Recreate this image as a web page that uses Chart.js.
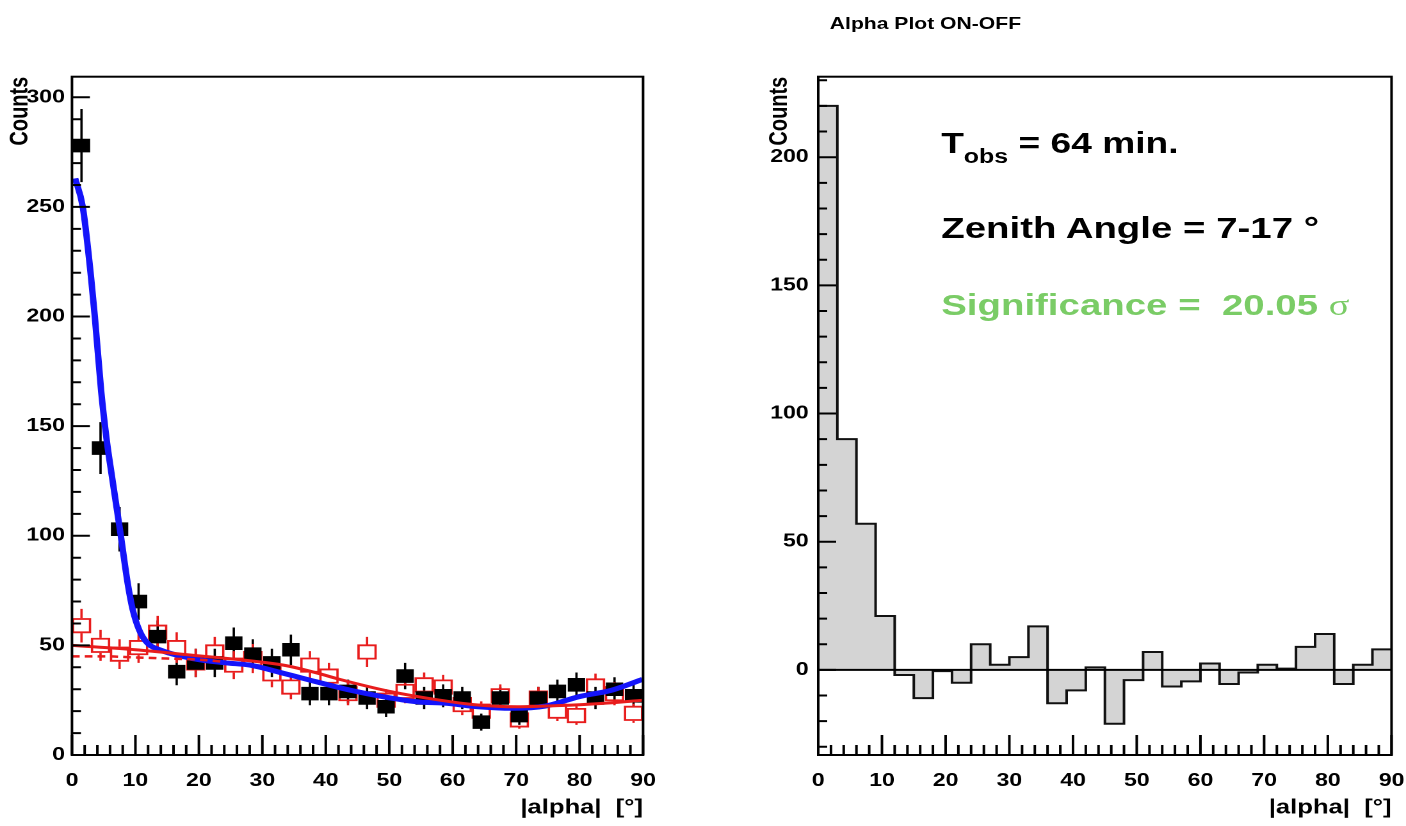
<!DOCTYPE html>
<html>
<head>
<meta charset="utf-8">
<title>Alpha Plot ON-OFF</title>
<script src="https://cdn.jsdelivr.net/npm/chart.js@4.4.1/dist/chart.umd.min.js"></script>
<style>
  html, body { margin: 0; padding: 0; background: #fff; overflow: hidden; }
  /* the original picture is stretched sideways, so the whole page is drawn narrow and scaled */
  #page { position: absolute; left: 0; top: 0; width: 1098px; height: 826px;
          transform: scaleX(1.2805); transform-origin: 0 0;
          font-family: "Liberation Sans", Arial, Helvetica, sans-serif; font-weight: bold; }
  #page canvas { position: absolute; top: 0; }
  .txt { position: absolute; white-space: nowrap; line-height: 1; }
</style>
</head>
<body>
<div id="page">
  <canvas id="onOffChart" width="515" height="826" style="left:0px"></canvas>
  <canvas id="excessChart" width="505" height="826" style="left:593px"></canvas>
  <div class="txt" style="left:648px; top:15px; font-size:16.5px;">Alpha Plot ON-OFF</div>
  <div class="txt" style="left:735px; top:129px; font-size:29px;">T<span style="font-size:19.5px; position:relative; top:10px;">obs</span> = 64 min.</div>
  <div class="txt" style="left:735px; top:213px; font-size:30px;">Zenith Angle = 7-17 °</div>
  <div class="txt" style="left:735px; top:290px; font-size:30px; color:#7acc66;">Significance =&nbsp; 20.05 <span style="font-family:'Liberation Serif', serif; font-weight:normal;">σ</span></div>
</div>
<script>
// |alpha| bin centres (3 degree bins)
const alphaBins = [1.5, 4.5, 7.5, 10.5, 13.5, 16.5, 19.5, 22.5, 25.5, 28.5,
                   31.5, 34.5, 37.5, 40.5, 43.5, 46.5, 49.5, 52.5, 55.5, 58.5,
                   61.5, 64.5, 67.5, 70.5, 73.5, 76.5, 79.5, 82.5, 85.5, 88.5];

// ON counts (black) and OFF counts (red), left panel
const onCounts = [278, 140, 103, 70, 54, 38, 42, 42, 51, 46,
                  42, 48, 28, 28, 29, 26, 22, 36, 26, 27,
                  26, 15, 26, 18, 26, 29, 32, 26, 30, 27];
const offCounts = [59, 50, 46, 49, 56, 49, 42, 47, 41, 44,
                   37, 31, 41, 36, 28, 47, 25, 29, 32, 31,
                   23, 20, 27, 16, 26, 20, 18, 31.5, 28, 19];

// ON - OFF excess, right panel
const excessCounts = [220, 90, 57, 21, -2, -11, -0.5, -5, 10, 2,
                      5, 17, -13, -8, 1, -21, -4, 7, -6.5, -4.5,
                      2.5, -5.5, -1, 2, 0.5, 9, 14, -5.5, 2, 8];

// fit curves
const onFitX = [0.5, 1.7, 3.0, 3.6, 4.6, 5.5, 6.2, 7.6, 8.8, 9.6, 10.6, 11.9, 13.8, 19, 24.3, 28,
                33.3, 38.5, 43.8, 49, 54.3, 59, 64, 69.4, 74.6, 79.9, 85.1, 89.9];
const onFitY = [263, 250, 218, 200, 166, 143, 129, 102, 78, 66, 57, 51, 48, 44, 42, 41,
                37.3, 33.4, 29.6, 26.6, 24.3, 23.6, 22, 21.3, 22.3, 26.6, 29.6, 34.5];
const offFitX = [0, 10, 19, 28, 33.3, 38.5, 42.2, 50.1, 58, 63.3, 70.1, 76.5, 83.3, 90];
const offFitY = [50, 48, 45.5, 43, 41, 37.5, 34.5, 29, 25, 23, 22, 22.5, 23.5, 25];
const bgFitX = [0, 5, 10, 15, 20, 24];
const bgFitY = [45, 45, 44.5, 44, 43.5, 42.5];

// tick labels
const xTicks = [0, 10, 20, 30, 40, 50, 60, 70, 80, 90];
const yTicksLeft = [0, 50, 100, 150, 200, 250, 300];
const yTicksRight = [0, 50, 100, 150, 200];

const FONT = '"Liberation Sans", Arial, Helvetica, sans-serif';
const RED = 'rgb(232,28,28)';
const BLUE = 'rgb(20,20,250)';

const pts = (xs, ys) => xs.map((x, i) => ({ x: x, y: ys[i] }));

// ROOT style frame with inward ticks
const rootFrame = {
  id: 'rootFrame',
  afterDatasetsDraw(chart, args, o) {
    const { ctx, chartArea: a, scales: { x, y } } = chart;
    ctx.save();
    ctx.strokeStyle = '#000';
    ctx.lineWidth = 2;
    ctx.beginPath();
    for (let v = x.min; v <= x.max; v += o.xMinor) {
      const px = x.getPixelForValue(v);
      const len = v % o.xMajor === 0 ? 20 : 10;
      ctx.moveTo(px, a.bottom);
      ctx.lineTo(px, a.bottom - len);
    }
    for (let v = Math.ceil(y.min / o.yMinor) * o.yMinor; v <= y.max; v += o.yMinor) {
      const py = y.getPixelForValue(v);
      const len = v % o.yMajor === 0 ? 14 : 7;
      ctx.moveTo(a.left, py);
      ctx.lineTo(a.left + len, py);
    }
    ctx.stroke();
    ctx.strokeRect(a.left, a.top, a.right - a.left, a.bottom - a.top);
    ctx.restore();
  }
};

// sqrt(N) error bars, stopped at the marker edge
const errorBars = {
  id: 'errorBars',
  beforeDatasetsDraw(chart) {
    const { ctx, scales: { y } } = chart;
    chart.data.datasets.forEach((ds, i) => {
      if (ds.errorGap === undefined) return;
      const meta = chart.getDatasetMeta(i);
      ctx.save();
      ctx.strokeStyle = ds.borderColor;
      ctx.lineWidth = 1.8;
      meta.data.forEach((p, j) => {
        const v = ds.data[j].y;
        const e = Math.sqrt(v);
        ctx.beginPath();
        ctx.moveTo(p.x, y.getPixelForValue(v + e));
        ctx.lineTo(p.x, p.y - ds.errorGap);
        ctx.moveTo(p.x, p.y + ds.errorGap);
        ctx.lineTo(p.x, y.getPixelForValue(v - e));
        ctx.stroke();
      });
      ctx.restore();
    });
  }
};

function axes(yMin, yMax, yTicks, yWidth, yPad) {
  return {
    x: {
      type: 'linear', min: 0, max: 90,
      afterBuildTicks: s => { s.ticks = xTicks.map(v => ({ value: v })); },
      afterFit: s => { s.height = 71; s.paddingLeft = 0; s.paddingRight = 0; },
      grid: { display: false, drawTicks: false },
      border: { display: false },
      ticks: { color: '#000', padding: 15, autoSkip: false, maxRotation: 0,
               font: { family: FONT, size: 18, weight: 'bold' } },
      title: { display: true, text: '|alpha|  [°]', align: 'end', color: '#000',
               padding: { top: 0, bottom: 6 },
               font: { family: FONT, size: 20, weight: 'bold' } }
    },
    y: {
      type: 'linear', min: yMin, max: yMax,
      afterBuildTicks: s => { s.ticks = yTicks.map(v => ({ value: v })); },
      afterFit: s => { s.width = yWidth; s.paddingTop = 0; s.paddingBottom = 0; },
      grid: { display: false, drawTicks: false },
      border: { display: false },
      ticks: { color: '#000', padding: yPad, autoSkip: false,
               font: { family: FONT, size: 18, weight: 'bold' } },
      title: { display: true, text: 'Counts', align: 'end', color: '#000',
               padding: { top: 4, bottom: 0 },
               font: { family: FONT, size: 20, weight: 'bold' } }
    }
  };
}

const common = {
  responsive: false,
  devicePixelRatio: 2,
  animation: false,
  events: [],
  plugins: { legend: { display: false }, tooltip: { enabled: false } }
};

new Chart(document.getElementById('onOffChart'), {
  type: 'scatter',
  data: {
    datasets: [
      { type: 'line', data: pts(offFitX, offFitY), borderColor: RED, borderWidth: 3,
        pointRadius: 0, cubicInterpolationMode: 'monotone', fill: false },
      { type: 'line', data: pts(bgFitX, bgFitY), borderColor: RED, borderWidth: 2.5,
        borderDash: [6, 4], pointRadius: 0, cubicInterpolationMode: 'monotone', fill: false },
      { type: 'line', data: pts(onFitX, onFitY), borderColor: BLUE, borderWidth: 5,
        pointRadius: 0, cubicInterpolationMode: 'monotone', fill: false },
      { data: pts(alphaBins, onCounts), pointStyle: 'rect', pointRadius: 9.6,
        backgroundColor: '#000', borderColor: '#000', borderWidth: 0, errorGap: 0 },
      { data: pts(alphaBins, offCounts), pointStyle: 'rect', pointRadius: 9.4,
        backgroundColor: 'rgba(0,0,0,0)', borderColor: RED, borderWidth: 1.8, errorGap: 7.5 }
    ]
  },
  options: Object.assign({}, common, {
    layout: { padding: { top: 76.7, right: 12.8, bottom: 0, left: 0 } },
    scales: axes(0, 309.4, yTicksLeft, 56.2, 5.5),
    plugins: Object.assign({}, common.plugins,
      { rootFrame: { xMajor: 10, xMinor: 2, yMajor: 50, yMinor: 10 } })
  }),
  plugins: [errorBars, rootFrame]
});

// histogram outline: bins drawn as steps between centres, closed at 0 and 90
const histPts = [{ x: 0, y: excessCounts[0] }]
  .concat(pts(alphaBins, excessCounts))
  .concat([{ x: 90, y: excessCounts[excessCounts.length - 1] }]);

new Chart(document.getElementById('excessChart'), {
  type: 'scatter',
  data: {
    datasets: [
      { type: 'line', data: [{ x: 0, y: 0 }, { x: 90, y: 0 }], borderColor: '#000',
        borderWidth: 2, pointRadius: 0, fill: false },
      { type: 'line', data: histPts, stepped: 'middle', borderColor: '#111',
        borderWidth: 2, pointRadius: 0, fill: 'origin', backgroundColor: 'rgb(212,212,212)' }
    ]
  },
  options: Object.assign({}, common, {
    layout: { padding: { top: 76.7, right: 11.3, bottom: 0, left: 0 } },
    scales: axes(-33.2, 231.4, yTicksRight, 46, 7.5),
    plugins: Object.assign({}, common.plugins,
      { rootFrame: { xMajor: 10, xMinor: 2, yMajor: 50, yMinor: 10 } })
  }),
  plugins: [rootFrame]
});
</script>
</body>
</html>
